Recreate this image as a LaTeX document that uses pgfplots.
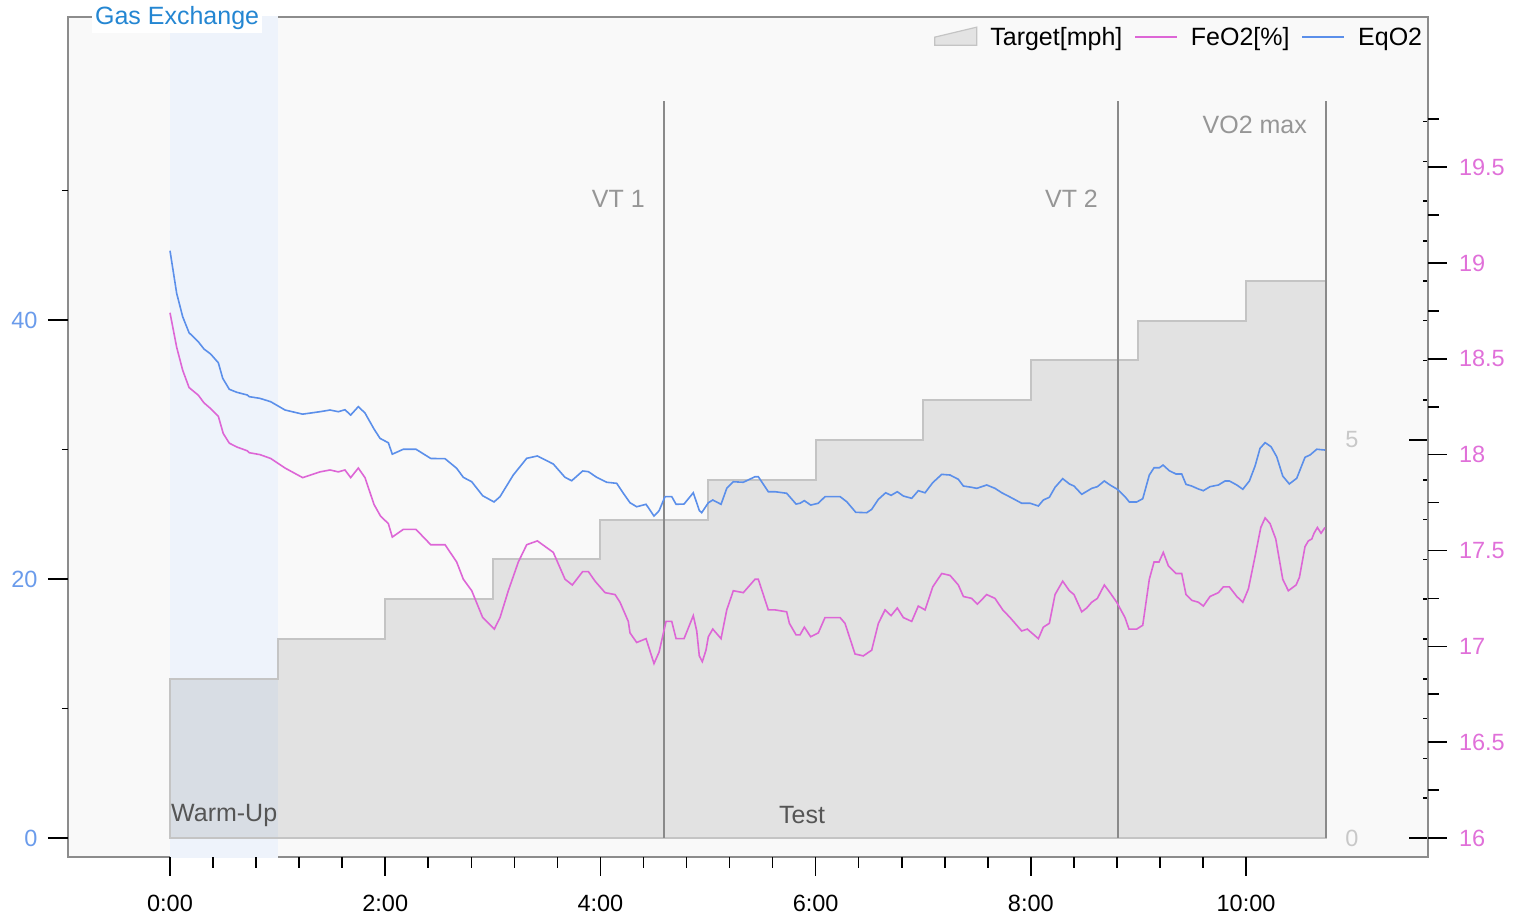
\documentclass[border=0pt]{standalone}
\usepackage{fontspec}
\setmainfont{Liberation Sans}
\usepackage{pgfplots}
\pgfplotsset{compat=1.18}

\definecolor{bgfill}{HTML}{F9F9F9}
\definecolor{bandblue}{HTML}{EEF3FB}
\definecolor{framegray}{HTML}{8C8C8C}
\definecolor{targetfill}{HTML}{E3E3E3}
\definecolor{targetline}{HTML}{C4C4C4}
\definecolor{vtgray}{HTML}{8A8A8A}
\definecolor{vtlabel}{HTML}{969696}
\definecolor{zerolabel}{HTML}{C8C8C8}
\definecolor{phasetext}{HTML}{555555}
\definecolor{eqblue}{HTML}{5B8FEA}
\definecolor{eqlabel}{HTML}{6A9BEB}
\definecolor{fepink}{HTML}{DD66D6}
\definecolor{felabel}{HTML}{E070D9}
\definecolor{titleblue}{HTML}{2486D2}

\pgfplotsset{
  chartbase/.style={
    scale only axis, width=1360pt, height=840pt,
    at={(0pt,0pt)}, anchor=south west,
    xmin=-0.948, xmax=11.691,
    /pgf/number format/assume math mode=true,
    tick label style={font=\fontsize{23.5}{28}\selectfont},
    tick style={black, line width=1.6pt},
  },
}

\begin{document}
\begin{tikzpicture}[font=\fontsize{25}{30}\selectfont]
\useasboundingbox (-68pt,-64pt) rectangle (1458pt,857pt);

% speed target (right, inner axis) + frame
\begin{axis}[chartbase,
  ymin=-0.2387, ymax=10.314,
  axis background/.style={fill=bgfill},
  axis line style={draw=framegray, line width=2pt},
  xtick=\empty,
  ytick pos=right, yticklabel pos=right,
  ytick={0,5},
  minor ytick={0.5,1,1.5,2,2.5,3,3.5,4,4.5,5.5,6,6.5,7,7.5,8,8.5,9},
  tick align=inside,
  major tick length=19pt, minor tick length=5pt,
  yticklabel style={anchor=center, xshift=-76pt, text=zerolabel},
  title={Gas Exchange},
  title style={at={(0.0176,1)}, anchor=west, fill=white, text=titleblue,
    inner sep=3pt, yshift=-7pt, font=\fontsize{25}{30}\selectfont},
]
\fill[bandblue] (axis cs:0,-0.3) rectangle (axis cs:1,10.4);
\addplot[const plot, draw=targetline, line width=2pt, fill=black, fill opacity=0.09]
  coordinates {(0,2) (1,2.5) (2,3) (3,3.5) (4,4) (5,4.5) (6,5) (7,5.5) (8,6) (9,6.5) (10,7) (10.74,7)} \closedcycle;
\draw[vtgray, line width=2pt] (axis cs:4.595,0) -- (axis cs:4.595,9.26);
\draw[vtgray, line width=2pt] (axis cs:8.81,0) -- (axis cs:8.81,9.26);
\draw[vtgray, line width=2pt] (axis cs:10.74,0) -- (axis cs:10.74,9.26);
\node[anchor=east, inner sep=0pt, text=vtlabel] at (axis cs:4.414,8.028) {VT 1};
\node[anchor=east, inner sep=0pt, text=vtlabel] at (axis cs:8.625,8.028) {VT 2};
\node[anchor=east, inner sep=0pt, text=vtlabel] at (axis cs:10.567,8.957) {VO2 max};
\node[anchor=west, inner sep=0pt, text=phasetext] at (axis cs:0.009,0.289) {Warm-Up};
\node[inner sep=0pt, text=phasetext] at (axis cs:5.874,0.289) {Test};
\end{axis}

% FeO2 (right, outer axis) + time axis
\begin{axis}[chartbase,
  ymin=15.901, ymax=20.283,
  axis x line*=bottom, axis y line*=right,
  axis line style={draw=none},
  xtick={0,2,4,6,8,10},
  xticklabels={0:00,2:00,4:00,6:00,8:00,10:00},
  minor x tick num=4,
  ytick={16,16.5,17,17.5,18,18.5,19,19.5},
  minor ytick={16.25,16.75,17.25,17.75,18.25,18.75,19.25,19.75},
  tick align=outside,
  major tick length=18.5pt, minor tick length=10.5pt,
  xticklabel style={yshift=-16pt},
  yticklabel style={text=felabel, xshift=9pt},
]
\addplot[fepink, line width=1.6pt] coordinates {
(0,18.74)(0.062,18.56)(0.118,18.44)(0.177,18.35)(0.263,18.31)(0.316,18.27)(0.378,18.24)(0.449,18.20)
(0.495,18.11)(0.551,18.06)(0.620,18.04)(0.718,18.02)(0.737,18.01)(0.836,18.00)(0.936,17.98)(1.069,17.93)
(1.233,17.88)(1.394,17.91)(1.487,17.92)(1.564,17.91)(1.626,17.92)(1.679,17.88)(1.750,17.93)(1.812,17.88)
(1.896,17.74)(1.956,17.68)(2.029,17.64)(2.066,17.57)(2.168,17.61)(2.286,17.61)(2.423,17.53)(2.556,17.53)
(2.664,17.44)(2.726,17.35)(2.804,17.29)(2.906,17.15)(3.014,17.09)(3.067,17.15)(3.144,17.29)(3.237,17.44)
(3.315,17.53)(3.414,17.55)(3.562,17.49)(3.671,17.35)(3.739,17.32)(3.835,17.39)(3.888,17.39)(3.950,17.34)
(4.043,17.28)(4.136,17.27)(4.182,17.23)(4.259,17.13)(4.275,17.07)(4.337,17.02)(4.424,17.04)(4.498,16.91)
(4.545,16.97)(4.610,17.13)(4.663,17.13)(4.703,17.04)(4.777,17.04)(4.863,17.16)(4.895,17.08)(4.919,16.95)
(4.947,16.92)(4.981,16.98)(5.003,17.05)(5.044,17.09)(5.121,17.04)(5.174,17.19)(5.235,17.29)(5.328,17.28)
(5.437,17.35)(5.467,17.35)(5.560,17.19)(5.623,17.19)(5.731,17.18)(5.756,17.12)(5.818,17.06)(5.855,17.06)
(5.895,17.10)(5.954,17.05)(6.025,17.07)(6.087,17.15)(6.227,17.15)(6.273,17.12)(6.366,16.96)(6.443,16.95)
(6.521,16.98)(6.583,17.12)(6.645,17.19)(6.701,17.16)(6.759,17.20)(6.815,17.15)(6.893,17.13)(6.954,17.21)
(7.017,17.19)(7.088,17.31)(7.172,17.38)(7.249,17.37)(7.326,17.32)(7.373,17.26)(7.451,17.25)(7.503,17.22)
(7.590,17.27)(7.667,17.25)(7.739,17.19)(7.807,17.15)(7.915,17.08)(7.967,17.09)(8.070,17.04)(8.116,17.10)
(8.172,17.12)(8.225,17.27)(8.296,17.34)(8.358,17.29)(8.401,17.27)(8.473,17.18)(8.519,17.20)(8.566,17.23)
(8.618,17.25)(8.683,17.32)(8.736,17.28)(8.798,17.23)(8.875,17.15)(8.912,17.09)(8.984,17.09)(9.040,17.11)
(9.101,17.35)(9.145,17.44)(9.191,17.44)(9.231,17.49)(9.278,17.42)(9.349,17.38)(9.402,17.38)(9.442,17.27)
(9.495,17.24)(9.557,17.23)(9.603,17.21)(9.665,17.26)(9.743,17.28)(9.789,17.31)(9.845,17.31)(9.914,17.26)
(9.970,17.23)(10.022,17.30)(10.084,17.47)(10.137,17.62)(10.177,17.67)(10.223,17.64)(10.276,17.56)(10.341,17.35)
(10.393,17.29)(10.465,17.32)(10.496,17.36)(10.548,17.52)(10.579,17.55)(10.611,17.56)(10.632,17.59)(10.663,17.62)
(10.697,17.59)(10.734,17.62)
};
\end{axis}

% EqO2 (left axis) + legend
\begin{axis}[chartbase,
  ymin=-1.467, ymax=63.40,
  hide x axis, axis y line*=left,
  axis line style={draw=none},
  ytick={0,20,40}, minor ytick={10,30,50},
  tick align=outside,
  major tick length=20pt, minor tick length=6pt,
  yticklabel style={text=eqlabel, xshift=-7pt},
  legend style={at={(0.9995,0.976)}, anchor=east, draw=none, fill=none,
    font=\fontsize{25}{30}\selectfont, legend columns=-1,
    /tikz/every odd column/.append style={column sep=11pt},
    /tikz/every even column/.append style={column sep=10pt}},
  legend cell align=left,
  legend image code/.code={\draw[#1] (0pt,0pt) -- (42pt,0pt);},
]
\addlegendimage{legend image code/.code={\filldraw[fill=targetfill, draw=targetline, line width=1.2pt] (0pt,-8pt) -- (0pt,0pt) -- (42pt,10pt) -- (42pt,-8pt) -- cycle;}}
\addlegendentry{Target[mph]}
\addlegendimage{fepink, line width=1.6pt}
\addlegendentry{FeO2[\%]}
\addplot[eqblue, line width=1.6pt] coordinates {
(0,45.35)(0.062,42.06)(0.118,40.25)(0.177,39.02)(0.263,38.32)(0.316,37.76)(0.378,37.37)(0.449,36.70)
(0.490,35.50)(0.551,34.65)(0.620,34.42)(0.718,34.21)(0.737,34.08)(0.836,33.95)(0.936,33.69)(1.069,33.05)
(1.233,32.73)(1.394,32.92)(1.487,33.05)(1.564,32.92)(1.626,33.07)(1.679,32.66)(1.750,33.31)(1.812,32.82)
(1.896,31.58)(1.952,30.86)(2.029,30.52)(2.066,29.64)(2.168,30.02)(2.286,30.02)(2.423,29.31)(2.556,29.29)
(2.664,28.55)(2.726,27.85)(2.804,27.51)(2.906,26.43)(3.011,25.95)(3.067,26.36)(3.190,28.03)(3.315,29.32)
(3.414,29.50)(3.562,28.88)(3.671,27.85)(3.733,27.59)(3.835,28.34)(3.888,28.29)(3.966,27.85)(4.059,27.47)
(4.151,27.39)(4.213,26.62)(4.275,25.89)(4.337,25.58)(4.424,25.77)(4.498,24.86)(4.545,25.27)(4.600,26.36)
(4.663,26.36)(4.703,25.77)(4.777,25.79)(4.863,26.66)(4.919,25.29)(4.941,25.12)(5.003,25.89)(5.044,26.10)
(5.121,25.77)(5.174,27.00)(5.235,27.51)(5.328,27.47)(5.437,27.90)(5.467,27.90)(5.560,26.74)(5.623,26.74)
(5.731,26.62)(5.818,25.79)(5.855,25.85)(5.895,26.05)(5.954,25.71)(6.025,25.85)(6.087,26.36)(6.227,26.36)
(6.289,25.97)(6.373,25.15)(6.475,25.12)(6.521,25.38)(6.583,26.15)(6.651,26.66)(6.701,26.46)(6.759,26.74)
(6.815,26.41)(6.893,26.23)(6.954,26.82)(7.017,26.66)(7.088,27.44)(7.172,28.08)(7.249,28.03)(7.326,27.70)
(7.373,27.18)(7.451,27.08)(7.497,27.00)(7.590,27.26)(7.667,27.00)(7.730,26.66)(7.807,26.33)(7.915,25.85)
(7.993,25.85)(8.070,25.64)(8.116,26.10)(8.172,26.31)(8.225,27.08)(8.296,27.75)(8.358,27.34)(8.401,27.18)
(8.473,26.54)(8.566,27.00)(8.618,27.13)(8.683,27.57)(8.736,27.26)(8.804,26.93)(8.875,26.36)(8.915,25.95)
(8.984,25.95)(9.040,26.20)(9.101,28.03)(9.145,28.59)(9.194,28.59)(9.229,28.80)(9.287,28.36)(9.349,28.11)
(9.402,28.11)(9.442,27.31)(9.495,27.18)(9.557,26.95)(9.603,26.82)(9.665,27.13)(9.743,27.26)(9.805,27.57)
(9.845,27.57)(9.914,27.26)(9.970,26.93)(10.031,27.57)(10.084,28.73)(10.130,30.09)(10.177,30.53)(10.232,30.22)
(10.285,29.44)(10.341,27.95)(10.402,27.34)(10.471,27.78)(10.548,29.40)(10.595,29.58)(10.657,30.02)(10.734,29.96)
};
\addlegendentry{EqO2}
\end{axis}
\end{tikzpicture}
\end{document}
